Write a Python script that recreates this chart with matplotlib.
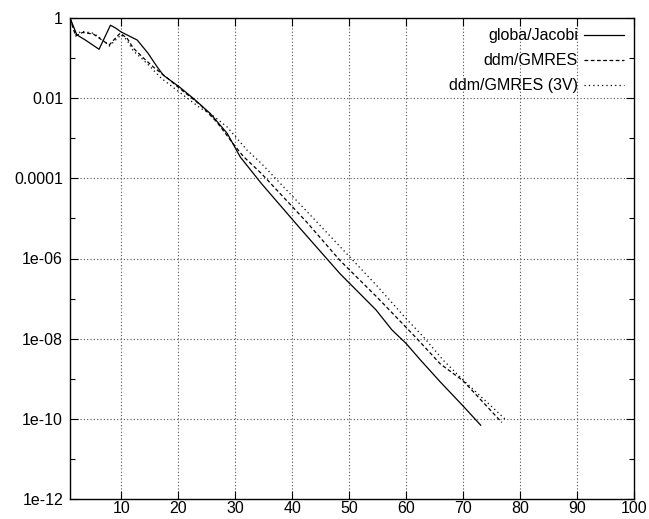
import numpy as np
import matplotlib
matplotlib.use("Agg")
import matplotlib.pyplot as plt
from matplotlib.ticker import FixedLocator, NullFormatter

# residual history (log10 of residual)
jacobi_it = [1, 2.2, 3.7, 6.1, 8.1, 9.0, 10.0, 12.8, 14.7, 16.3, 17.4, 20.2, 22.6, 25.6,
             28.6, 30.9, 34.6, 41.4, 48.4, 54.7, 57.5, 60.0, 62.5, 66.0, 70.0, 73.1]
jacobi_log = [0, -0.42, -0.55, -0.78, -0.18, -0.25, -0.35, -0.55, -0.88, -1.22, -1.43, -1.72,
              -2.0, -2.38, -2.88, -3.47, -4.13, -5.25, -6.38, -7.28, -7.78, -8.12, -8.53,
              -9.08, -9.68, -10.16]

gmres_it = [1, 2.0, 3.2, 5.1, 6.8, 7.9, 9.0, 9.8, 11.0, 12.1, 13.9, 15.6, 18.1, 20.2, 23.9,
            26.8, 29.6, 31.4, 34.6, 42.6, 48.4, 55.0, 61.9, 66.0, 70.0, 76.8]
gmres_log = [0, -0.45, -0.36, -0.4, -0.57, -0.67, -0.5, -0.38, -0.5, -0.75, -1.0, -1.22,
             -1.5, -1.75, -2.17, -2.6, -3.13, -3.45, -3.88, -5.1, -6.05, -6.98, -8.0,
             -8.63, -9.05, -10.09]

gmres3v_it = [1, 2.0, 3.0, 5.1, 6.8, 7.9, 9.0, 10.0, 11.0, 12.1, 13.9, 15.1, 17.0, 20.2,
              23.9, 25.6, 28.6, 32.1, 34.6, 44.4, 49.3, 55.0, 60.0, 63.0, 66.6, 70.0, 77.7]
gmres3v_log = [0, -0.42, -0.33, -0.38, -0.55, -0.7, -0.55, -0.42, -0.55, -0.82, -1.05, -1.22,
               -1.5, -1.85, -2.25, -2.38, -2.72, -3.3, -3.63, -5.1, -5.84, -6.7, -7.5,
               -7.95, -8.55, -9.03, -10.05]

labels = ["globa/Jacobi", "ddm/GMRES", "ddm/GMRES (3V)"]
xticks = [10, 20, 30, 40, 50, 60, 70, 80, 90, 100]
yticks = [1, 1e-2, 1e-4, 1e-6, 1e-8, 1e-10, 1e-12]
ytick_labels = ["1", "0.01", "0.0001", "1e-06", "1e-08", "1e-10", "1e-12"]

plt.rcParams['font.family'] = ['Liberation Sans', 'DejaVu Sans']
plt.rcParams['font.size'] = 11.5

fig = plt.figure(figsize=(6.49, 5.19), dpi=100)
ax = fig.add_axes([70 / 649, 1 - 499 / 519, 564 / 649, 481 / 519])

ax.plot(jacobi_it, 10.0 ** np.array(jacobi_log), color='black', lw=0.9, label=labels[0])
ax.plot(gmres_it, 10.0 ** np.array(gmres_log), color='black', lw=0.9,
        linestyle=(0, (3, 2)), label=labels[1])
ax.plot(gmres3v_it, 10.0 ** np.array(gmres3v_log), color='black', lw=0.9,
        linestyle=(0, (1, 2.5)), label=labels[2])

ax.set_yscale('log')
ax.set_xlim(1, 100)
ax.set_ylim(1e-12, 1)

ax.xaxis.set_major_locator(FixedLocator(xticks))
ax.set_xticklabels([str(t) for t in xticks])
ax.yaxis.set_major_locator(FixedLocator(yticks))
ax.set_yticklabels(ytick_labels)
ax.yaxis.set_minor_locator(FixedLocator([1e-1, 1e-3, 1e-5, 1e-7, 1e-9, 1e-11]))
ax.yaxis.set_minor_formatter(NullFormatter())
ax.xaxis.set_minor_locator(FixedLocator([]))

ax.tick_params(which='both', direction='in', top=True, right=True, width=0.8)
ax.tick_params(which='major', length=6)
ax.tick_params(axis='y', which='major', pad=5)
ax.tick_params(axis='x', which='major', pad=1.5)
ax.tick_params(which='minor', length=3.5)

# gnuplot style dotted grid on inner major ticks
for x in xticks[:-1]:
    ax.axvline(x, color='0.3', lw=0.8, linestyle=(0, (1, 2)), zorder=0)
for y in yticks[1:-1]:
    ax.axhline(y, color='0.3', lw=0.8, linestyle=(0, (1, 2)), zorder=0)

for s in ax.spines.values():
    s.set_linewidth(1.0)

ax.legend(loc='upper right', markerfirst=False, frameon=False, handlelength=2.5,
          handletextpad=0.35, labelspacing=0.62, borderaxespad=0.25, fontsize=11.5)

fig.savefig("out.png", dpi=100)
